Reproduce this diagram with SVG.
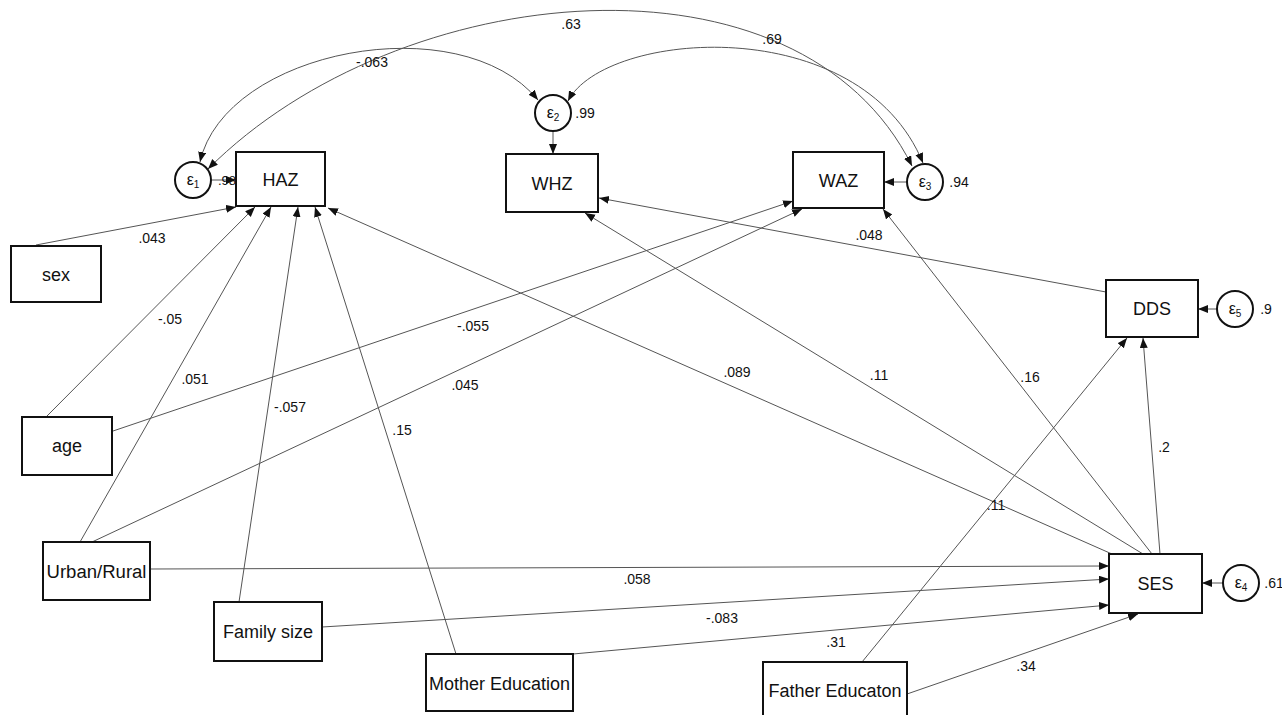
<svg xmlns="http://www.w3.org/2000/svg" width="1282" height="715" viewBox="0 0 1282 715">
<style>
.box{fill:#fff;stroke:#111;stroke-width:2}
.err{fill:#fff;stroke:#111;stroke-width:2}
.lbl{font-family:"Liberation Sans",Arial,sans-serif;font-size:18px;fill:#111;text-anchor:middle}
.num{font-family:"Liberation Sans",Arial,sans-serif;font-size:14px;fill:#111;text-anchor:middle}
.eps{font-family:"Liberation Sans",Arial,sans-serif;font-size:16px;fill:#111;text-anchor:middle}
.sub{font-size:10px}
.c{fill:none;stroke:#555;stroke-width:1;marker-end:url(#ah)}
.cv{fill:none;stroke:#555;stroke-width:1;marker-end:url(#ah);marker-start:url(#ah)}
</style>
<defs>
<marker id="ah" markerUnits="userSpaceOnUse" markerWidth="11" markerHeight="9" refX="10" refY="4" orient="auto-start-reverse">
<path d="M0,0 L10,4 L0,8 z" fill="#111"/>
</marker>
</defs>
<rect width="1282" height="715" fill="#fff"/>

<g id="connectors">
<!-- covariances -->
<path class="cv" d="M200,162 C225,50 460,5 538,100"/>
<path class="cv" d="M208,169 C400,-23 800,-60 912,166"/>
<path class="cv" d="M568,101 C605,30 860,10 923,163"/>
<!-- error paths -->
<line class="c" x1="212" y1="180" x2="236" y2="180"/>
<line class="c" x1="553" y1="131" x2="553" y2="154"/>
<line class="c" x1="906" y1="182" x2="884" y2="182"/>
<line class="c" x1="1217" y1="309" x2="1198" y2="309"/>
<line class="c" x1="1223" y1="583" x2="1202" y2="583"/>
<!-- to HAZ -->
<line class="c" x1="36" y1="245" x2="236" y2="207"/>
<line class="c" x1="46" y1="417" x2="255" y2="207"/>
<line class="c" x1="80" y1="542" x2="271" y2="207"/>
<line class="c" x1="239" y1="602" x2="298" y2="207"/>
<line class="c" x1="456" y1="654" x2="315" y2="207"/>
<line class="c" x1="1112" y1="554" x2="328" y2="208"/>
<!-- to WHZ -->
<line class="c" x1="1143" y1="554" x2="585" y2="213"/>
<line class="c" x1="1106" y1="292" x2="599" y2="198"/>
<!-- to WAZ -->
<line class="c" x1="113" y1="431" x2="793" y2="201"/>
<line class="c" x1="92" y1="542" x2="802" y2="209"/>
<line class="c" x1="1152" y1="554" x2="883" y2="209"/>
<!-- to DDS -->
<line class="c" x1="1160" y1="554" x2="1143" y2="338"/>
<line class="c" x1="862" y1="662" x2="1127" y2="338"/>
<!-- to SES -->
<line class="c" x1="150" y1="569" x2="1109" y2="566"/>
<line class="c" x1="322" y1="627" x2="1109" y2="579"/>
<line class="c" x1="573" y1="654" x2="1109" y2="605"/>
<line class="c" x1="907" y1="694" x2="1138" y2="614"/>
</g>

<g id="labels">
<text class="num" x="571" y="29">.63</text>
<text class="num" x="372" y="67">-.063</text>
<text class="num" x="772" y="44">.69</text>
<text class="num" x="152" y="243">.043</text>
<text class="num" x="170" y="324">-.05</text>
<text class="num" x="195" y="384">.051</text>
<text class="num" x="290" y="412">-.057</text>
<text class="num" x="402" y="435">.15</text>
<text class="num" x="473" y="331">-.055</text>
<text class="num" x="465" y="390">.045</text>
<text class="num" x="737" y="377">.089</text>
<text class="num" x="879" y="380">.11</text>
<text class="num" x="869" y="240">.048</text>
<text class="num" x="1030" y="382">.16</text>
<text class="num" x="1164" y="452">.2</text>
<text class="num" x="996" y="510">.11</text>
<text class="num" x="637" y="584">.058</text>
<text class="num" x="722" y="623">-.083</text>
<text class="num" x="836" y="647">.31</text>
<text class="num" x="1026" y="671">.34</text>
</g>

<g id="e1"><circle class="err" cx="193" cy="180" r="18"/><text class="eps" x="193" y="185">ε<tspan class="sub" dy="3">1</tspan></text><text class="num" x="227" y="185" style="font-size:13px">.98</text></g>
<g id="e2"><circle class="err" cx="553" cy="113" r="18"/><text class="eps" x="553" y="118">ε<tspan class="sub" dy="3">2</tspan></text><text class="num" x="585" y="118">.99</text></g>
<g id="e3"><circle class="err" cx="925" cy="182" r="18"/><text class="eps" x="925" y="187">ε<tspan class="sub" dy="3">3</tspan></text><text class="num" x="959" y="187">.94</text></g>
<g id="e5"><circle class="err" cx="1235" cy="309" r="18"/><text class="eps" x="1235" y="314">ε<tspan class="sub" dy="3">5</tspan></text><text class="num" x="1266" y="314">.9</text></g>
<g id="e4"><circle class="err" cx="1241" cy="583" r="18"/><text class="eps" x="1241" y="588">ε<tspan class="sub" dy="3">4</tspan></text><text class="num" x="1274" y="588">.61</text></g>

<g id="HAZ"><rect class="box" x="236" y="152" width="89" height="54"/><text class="lbl" x="280.5" y="186">HAZ</text></g>
<g id="WHZ"><rect class="box" x="506" y="154" width="92" height="58"/><text class="lbl" x="552" y="190">WHZ</text></g>
<g id="WAZ"><rect class="box" x="793" y="152" width="91" height="56"/><text class="lbl" x="838.5" y="187">WAZ</text></g>
<g id="sex"><rect class="box" x="11" y="246" width="90" height="56"/><text class="lbl" x="56" y="281">sex</text></g>
<g id="age"><rect class="box" x="22" y="417" width="90" height="58"/><text class="lbl" x="67" y="452">age</text></g>
<g id="DDS"><rect class="box" x="1106" y="280" width="92" height="57"/><text class="lbl" x="1152" y="315">DDS</text></g>
<g id="SES"><rect class="box" x="1109" y="554" width="93" height="59"/><text class="lbl" x="1155.5" y="590">SES</text></g>
<g id="UrbanRural"><rect class="box" x="43" y="542" width="107" height="58"/><text class="lbl" x="96.5" y="578" textLength="100" lengthAdjust="spacingAndGlyphs">Urban/Rural</text></g>
<g id="FamilySize"><rect class="box" x="214" y="602" width="108" height="59"/><text class="lbl" x="268" y="638">Family size</text></g>
<g id="MotherEducation"><rect class="box" x="426" y="654" width="147" height="57"/><text class="lbl" x="499.5" y="690">Mother Education</text></g>
<g id="FatherEducaton"><rect class="box" x="763" y="662" width="144" height="66"/><text class="lbl" x="835" y="697">Father Educaton</text></g>
</svg>
